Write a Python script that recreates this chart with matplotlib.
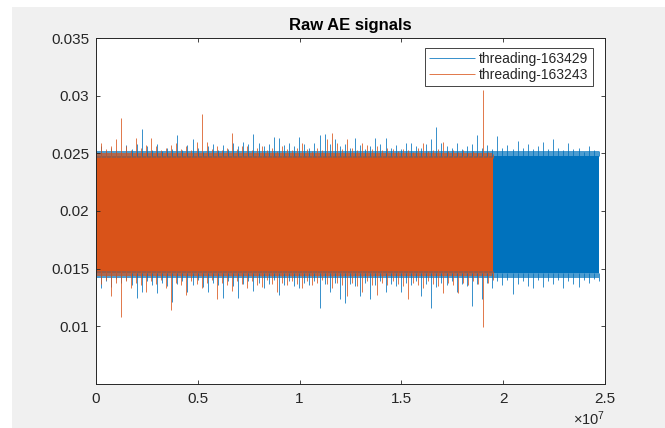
import numpy as np
import matplotlib.pyplot as plt
from matplotlib.patches import Rectangle

plt.rcParams['font.family'] = ['Liberation Sans', 'DejaVu Sans']
plt.rcParams['mathtext.fontset'] = 'custom'
plt.rcParams['mathtext.rm'] = 'Liberation Sans'
plt.rcParams['mathtext.it'] = 'Liberation Sans'

# signal lengths (samples)
len_163429 = 2.47e7
len_163243 = 1.95e7

# dense core of each signal (lower, upper)
core_163429 = [0.0146, 0.0248]
core_163243 = [0.0148, 0.0246]
# thinner fuzzy fringe around the core (lower, upper)
fuzz_163429 = [0.0142, 0.0252]
fuzz_163243 = [0.0144, 0.0250]

# spike peaks read along the record, evenly spaced
up_163429 = [0.0254, 0.0256, 0.0252, 0.0255, 0.0253, 0.0250, 0.0257, 0.0254, 0.0258, 0.0271,
             0.0256, 0.0253, 0.0258, 0.0252, 0.0255, 0.0254, 0.0266, 0.0253, 0.0257, 0.0262,
             0.0255, 0.0251, 0.0256, 0.0258, 0.0253, 0.0257, 0.0254, 0.0259, 0.0256, 0.0260,
             0.0258, 0.0267, 0.0259, 0.0256, 0.0258, 0.0264, 0.0263, 0.0257, 0.0259, 0.0256,
             0.0264, 0.0258, 0.0255, 0.0259, 0.0266, 0.0267, 0.0258, 0.0262, 0.0256, 0.0258,
             0.0255, 0.0263, 0.0257, 0.0254, 0.0256, 0.0263, 0.0258, 0.0263, 0.0255, 0.0257,
             0.0254, 0.0259, 0.0259, 0.0256, 0.0255, 0.0258, 0.0262, 0.0273, 0.0259, 0.0256,
             0.0255, 0.0259, 0.0254, 0.0256, 0.0258, 0.0266, 0.0255, 0.0257, 0.0254, 0.0265,
             0.0255, 0.0257, 0.0254, 0.0261, 0.0255, 0.0258, 0.0254, 0.0256, 0.0260, 0.0254,
             0.0262, 0.0255, 0.0253, 0.0259, 0.0254, 0.0255, 0.0251, 0.0256, 0.0253, 0.0252]
low_163429 = [0.0140, 0.0133, 0.0139, 0.0134, 0.0141, 0.0138, 0.0140, 0.0136, 0.0125, 0.0130,
              0.0139, 0.0136, 0.0129, 0.0138, 0.0135, 0.0121, 0.0137, 0.0139, 0.0130, 0.0136,
              0.0140, 0.0134, 0.0130, 0.0138, 0.0136, 0.0125, 0.0139, 0.0135, 0.0125, 0.0137,
              0.0139, 0.0131, 0.0138, 0.0133, 0.0137, 0.0140, 0.0127, 0.0136, 0.0139, 0.0135,
              0.0133, 0.0138, 0.0136, 0.0139, 0.0116, 0.0137, 0.0130, 0.0138, 0.0124, 0.0120,
              0.0137, 0.0135, 0.0126, 0.0138, 0.0124, 0.0136, 0.0139, 0.0130, 0.0137, 0.0135,
              0.0130, 0.0138, 0.0136, 0.0139, 0.0126, 0.0137, 0.0116, 0.0134, 0.0138, 0.0136,
              0.0139, 0.0130, 0.0137, 0.0135, 0.0118, 0.0137, 0.0124, 0.0138, 0.0133, 0.0139,
              0.0136, 0.0140, 0.0128, 0.0137, 0.0139, 0.0135, 0.0133, 0.0140, 0.0134, 0.0139,
              0.0137, 0.0140, 0.0133, 0.0139, 0.0137, 0.0134, 0.0140, 0.0138, 0.0141, 0.0139]

up_163243 = [0.0252, 0.0259, 0.0254, 0.0256, 0.0262, 0.0281, 0.0256, 0.0253, 0.0263, 0.0255,
             0.0257, 0.0263, 0.0256, 0.0253, 0.0255, 0.0257, 0.0259, 0.0254, 0.0256, 0.0253,
             0.0260, 0.0284, 0.0260, 0.0254, 0.0256, 0.0253, 0.0255, 0.0268, 0.0254, 0.0256,
             0.0256, 0.0253, 0.0255, 0.0256, 0.0253, 0.0255, 0.0252, 0.0256, 0.0254, 0.0253,
             0.0255, 0.0259, 0.0254, 0.0252, 0.0255, 0.0253, 0.0262, 0.0268, 0.0259, 0.0254,
             0.0262, 0.0255, 0.0253, 0.0259, 0.0257, 0.0254, 0.0256, 0.0253, 0.0255, 0.0254,
             0.0252, 0.0254, 0.0253, 0.0251, 0.0255, 0.0259, 0.0252, 0.0253, 0.0254, 0.0260,
             0.0252, 0.0253, 0.0251, 0.0253, 0.0250, 0.0252, 0.0250, 0.0305, 0.0251, 0.0249]
low_163243 = [0.0141, 0.0137, 0.0140, 0.0126, 0.0138, 0.0108, 0.0139, 0.0133, 0.0138, 0.0136,
              0.0130, 0.0139, 0.0137, 0.0140, 0.0133, 0.0114, 0.0138, 0.0136, 0.0127, 0.0139,
              0.0137, 0.0133, 0.0138, 0.0140, 0.0124, 0.0138, 0.0136, 0.0131, 0.0139, 0.0137,
              0.0133, 0.0139, 0.0136, 0.0134, 0.0140, 0.0137, 0.0130, 0.0138, 0.0136, 0.0139,
              0.0137, 0.0133, 0.0139, 0.0136, 0.0138, 0.0140, 0.0137, 0.0133, 0.0138, 0.0136,
              0.0126, 0.0138, 0.0135, 0.0130, 0.0139, 0.0136, 0.0127, 0.0138, 0.0136, 0.0139,
              0.0137, 0.0135, 0.0124, 0.0138, 0.0136, 0.0133, 0.0139, 0.0137, 0.0135, 0.0129,
              0.0138, 0.0136, 0.0129, 0.0138, 0.0136, 0.0139, 0.0137, 0.0099, 0.0138, 0.0140]

labels = ['threading-163429', 'threading-163243']
x_ticks = [0, 0.5e7, 1e7, 1.5e7, 2e7, 2.5e7]
x_ticklabels = ['0', '0.5', '1', '1.5', '2', '2.5']
y_ticks = [0.01, 0.015, 0.02, 0.025, 0.03, 0.035]
y_ticklabels = ['0.01', '0.015', '0.02', '0.025', '0.03', '0.035']

blue = '#0072BD'
orange = '#D95319'
dark = '#262626'

fig = plt.figure(figsize=(6.65, 4.28), dpi=100, facecolor='white')
fig.patches.append(Rectangle((12 / 665, 0), 1, 1 - 7 / 428, transform=fig.transFigure,
                             facecolor='#f0f0f0', edgecolor='none', zorder=-10))
ax = fig.add_axes([96 / 665, 1 - 384 / 428, 509 / 665, 346 / 428])
ax.set_facecolor('white')

series = [(len_163429, core_163429, fuzz_163429, up_163429, low_163429, blue, labels[0]),
          (len_163243, core_163243, fuzz_163243, up_163243, low_163243, orange, labels[1])]
for n_len, core, fuzz, up, low, col, lab in series:
    ax.fill_between([0, n_len], fuzz[0], fuzz[1], color=col, lw=0, alpha=0.7)
    ax.fill_between([0, n_len], core[0], core[1], color=col, lw=0)
    x = np.linspace(0, n_len, len(up))
    # spikes sticking out of the dense core
    ax.vlines(x, core[1], up, color=col, lw=0.55, label=lab)
    ax.vlines(x, low, core[0], color=col, lw=0.55)

ax.set_xlim(0, 2.5e7)
ax.set_ylim(0.005, 0.035)
ax.set_xticks(x_ticks)
ax.set_xticklabels(x_ticklabels)
ax.set_yticks(y_ticks)
ax.set_yticklabels(y_ticklabels)
ax.tick_params(direction='in', length=3, width=0.6, colors=dark, labelsize=11,
               top=True, right=True)
ax.tick_params(axis='x', pad=6)
ax.tick_params(axis='y', pad=5)
for s in ax.spines.values():
    s.set_color(dark)
    s.set_linewidth(0.7)

ax.set_title('Raw AE signals', fontsize=12, fontweight='bold', color='black', pad=6)

leg = ax.legend(loc='upper right', bbox_to_anchor=(0.976, 0.971), borderaxespad=0,
                fontsize=10, handlelength=3.3, handletextpad=0.3, labelspacing=0.15,
                borderpad=0.3, fancybox=False, framealpha=1, edgecolor=dark)
leg.get_frame().set_linewidth(0.6)
for t in leg.get_texts():
    t.set_color(dark)

fig.text(605 / 665, 1 - 419 / 428, r'$\times10^{7}$', ha='right', va='center',
         fontsize=10.5, color=dark)

fig.savefig('out.png', dpi=100, facecolor=fig.get_facecolor())
